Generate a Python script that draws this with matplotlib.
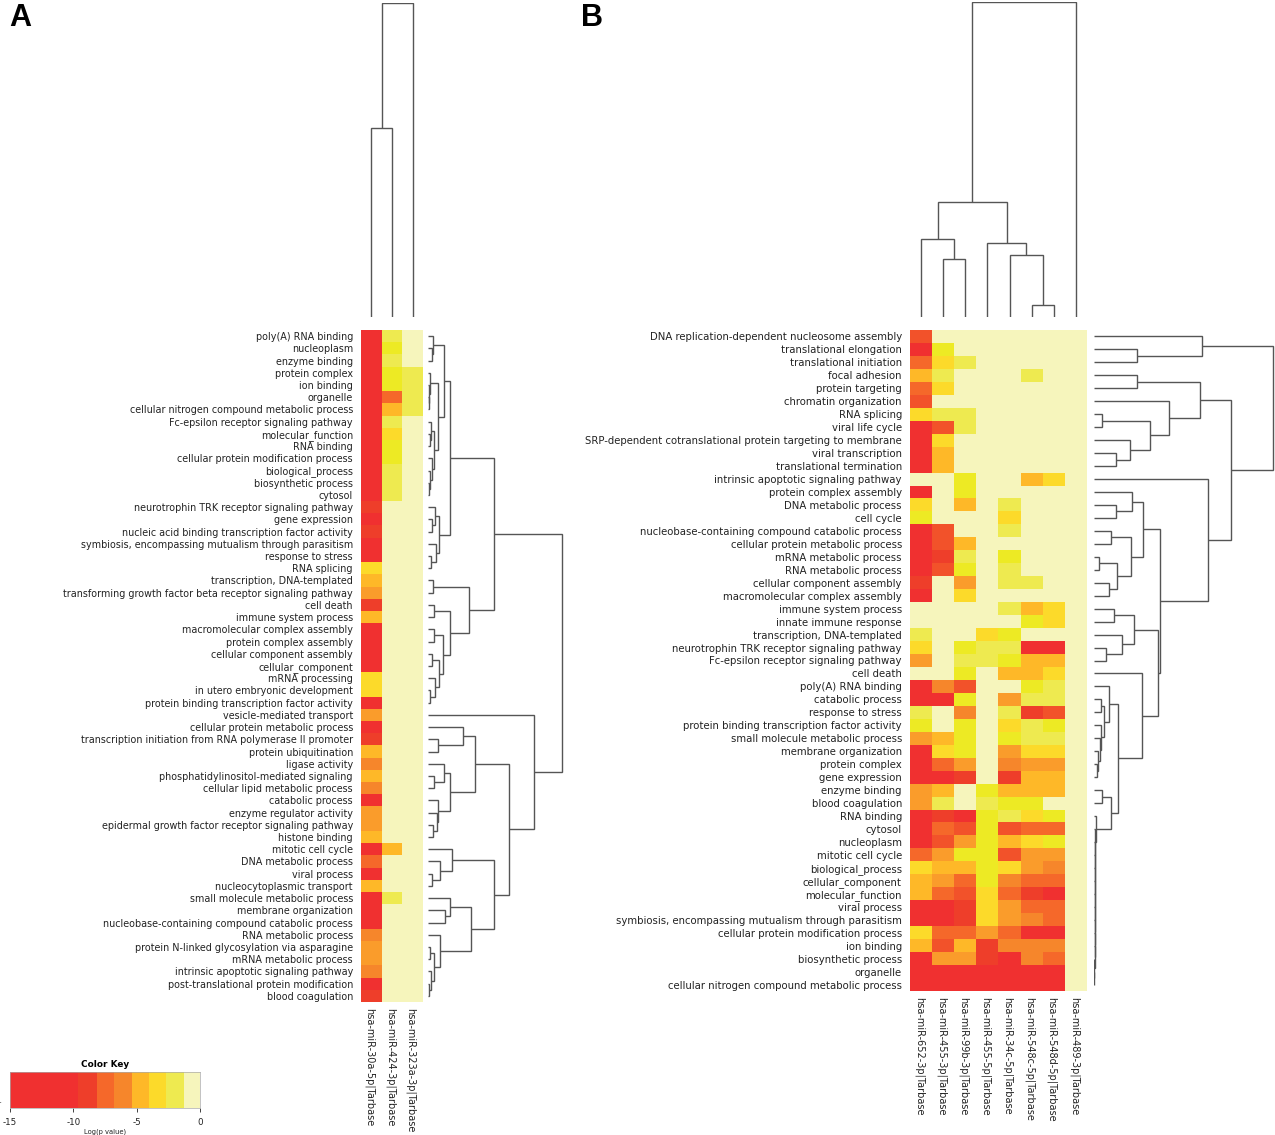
import matplotlib
matplotlib.use("Agg")
import matplotlib.pyplot as plt
import numpy as np
from matplotlib.colors import ListedColormap, BoundaryNorm
from matplotlib.transforms import ScaledTranslation

W, H = 1275, 1135
plt.rcParams['font.family'] = ['DejaVu Sans']

# Log(p) level represented by each colour class
LEVEL_CODES = "RreOoAaYLlP"
LEVEL_VALUES = [-12, -9.1, -8.6, -7.5, -6.2, -5.5, -4.7, -3.4, -2.4, -1.8, -0.5]
LEVEL_COLORS = ['#F03030', '#EE3E2A', '#F2522A', '#F5682A', '#F6862B', '#FA9C2B', '#FEB828',
                '#FCDA2A', '#EDEA24', '#EEEA50', '#F6F5BC']

KEY_EDGES = [-15, -9.6, -8.1, -6.8, -5.4, -4.0, -2.7, -1.3, 0]
KEY_COLORS = ['#F03030', '#EE3E2A', '#F5682A', '#F6862B', '#FEB828', '#FCDA2A', '#EEEA50', '#F6F5BC']

rows_a = ["poly(A) RNA binding", "nucleoplasm", "enzyme binding", "protein complex", "ion binding", "organelle",
          "cellular nitrogen compound metabolic process", "Fc-epsilon receptor signaling pathway", "molecular_function",
          "RNA binding", "cellular protein modification process", "biological_process", "biosynthetic process", "cytosol",
          "neurotrophin TRK receptor signaling pathway", "gene expression",
          "nucleic acid binding transcription factor activity", "symbiosis, encompassing mutualism through parasitism",
          "response to stress", "RNA splicing", "transcription, DNA-templated",
          "transforming growth factor beta receptor signaling pathway", "cell death", "immune system process",
          "macromolecular complex assembly", "protein complex assembly", "cellular component assembly",
          "cellular_component", "mRNA processing", "in utero embryonic development",
          "protein binding transcription factor activity", "vesicle-mediated transport",
          "cellular protein metabolic process", "transcription initiation from RNA polymerase II promoter",
          "protein ubiquitination", "ligase activity", "phosphatidylinositol-mediated signaling",
          "cellular lipid metabolic process", "catabolic process", "enzyme regulator activity",
          "epidermal growth factor receptor signaling pathway", "histone binding", "mitotic cell cycle",
          "DNA metabolic process", "viral process", "nucleocytoplasmic transport", "small molecule metabolic process",
          "membrane organization", "nucleobase-containing compound catabolic process", "RNA metabolic process",
          "protein N-linked glycosylation via asparagine", "mRNA metabolic process",
          "intrinsic apoptotic signaling pathway", "post-translational protein modification", "blood coagulation"]
cols_a = ["hsa-miR-30a-5p|Tarbase", "hsa-miR-424-3p|Tarbase", "hsa-miR-323a-3p|Tarbase"]
vals_a = ["RlP", "RLP", "RlP", "RLl", "RLl", "ROl", "Ral", "RlP", "RYP", "RLP", "RLP", "RlP", "RlP", "RlP",
          "rPP", "RPP", "rPP", "RPP", "RPP", "YPP", "aPP", "APP", "rPP", "aPP",
          "RPP", "RPP", "RPP", "RPP", "YPP", "YPP", "RPP", "APP", "RPP", "rPP", "aPP", "oPP", "aPP", "oPP",
          "RPP", "APP", "APP", "aPP", "RaP", "OPP", "RPP", "aPP", "RlP", "RPP", "RPP", "oPP", "APP", "APP",
          "oPP", "RPP", "rPP"]

rows_b = ["DNA replication-dependent nucleosome assembly", "translational elongation", "translational initiation",
          "focal adhesion", "protein targeting", "chromatin organization", "RNA splicing", "viral life cycle",
          "SRP-dependent cotranslational protein targeting to membrane", "viral transcription",
          "translational termination", "intrinsic apoptotic signaling pathway", "protein complex assembly",
          "DNA metabolic process", "cell cycle", "nucleobase-containing compound catabolic process",
          "cellular protein metabolic process", "mRNA metabolic process", "RNA metabolic process",
          "cellular component assembly", "macromolecular complex assembly", "immune system process",
          "innate immune response", "transcription, DNA-templated", "neurotrophin TRK receptor signaling pathway",
          "Fc-epsilon receptor signaling pathway", "cell death", "poly(A) RNA binding", "catabolic process",
          "response to stress", "protein binding transcription factor activity", "small molecule metabolic process",
          "membrane organization", "protein complex", "gene expression", "enzyme binding", "blood coagulation",
          "RNA binding", "cytosol", "nucleoplasm", "mitotic cell cycle", "biological_process", "cellular_component",
          "molecular_function", "viral process", "symbiosis, encompassing mutualism through parasitism",
          "cellular protein modification process", "ion binding", "biosynthetic process", "organelle",
          "cellular nitrogen compound metabolic process"]
cols_b = ["hsa-miR-652-3p|Tarbase", "hsa-miR-455-3p|Tarbase", "hsa-miR-99b-3p|Tarbase", "hsa-miR-455-5p|Tarbase",
          "hsa-miR-34c-5p|Tarbase", "hsa-miR-548c-5p|Tarbase", "hsa-miR-548d-5p|Tarbase", "hsa-miR-489-3p|Tarbase"]
vals_b = ["ePPPPPPP", "RLPPPPPP", "OYlPPPPP", "alPPPlPP", "OYPPPPPP", "ePPPPPPP", "YllPPPPP", "RelPPPPP",
          "RYPPPPPP", "RaPPPPPP", "RaPPPPPP", "PPLPPaYP", "RPLPPPPP", "YPaPlPPP", "LPPPYPPP", "RePPlPPP",
          "ReaPPPPP", "RrlPLPPP", "ReLPlPPP", "rPAPllPP", "RPYPPPPP", "PPPPlaYP", "PPPPPLYP", "lPPYLPPP",
          "YPLllRRP", "APllLaaP", "PPLPaaYP", "RoePPLlP", "RRLPAllP", "lPoPlreP", "LPLPYlLP", "AaLPLllP",
          "RYLPAYYP", "ROAPoAAP", "RRrPraaP", "AaPLaaaP", "AlPlLLPP", "RrRLlYLP", "ROeLeOOP", "ReALaYLP",
          "OALLeAAP", "YaaLYAoP", "aAOLoOOP", "aOeYOrRP", "RRrYAOOP", "RRrYAoOP", "YOOAORRP", "aearoooP",
          "RAArRoOP", "RRRRRRRP", "RRRRRRRP"]

# Dendrograms as nested (height, first, second); integers are 1-based leaf numbers
col_tree_a = (314, (189, 1, 2), 3)
col_tree_b = (315, (115, (78, 1, (58, 2, 3)), (74, 4, (62, 5, (12, 6, 7)))), 8)

row_tree_a = (134,
  (66,
    (22,
      (16, (5, 1, (4, 2, 3)),
           (10, (2.3, 4, (1, 5, (0.8, 6, 7))),
                (6, (2.7, 8, (1.5, 9, 10)), (4, 11, (2, 12, (1, 13, 14)))))),
      (11, (7, 15, (4, 16, 17)), (8, 18, (3, 19, 20)))),
    (41, (4.5, 21, 22),
         (22, (6, 23, 24),
              (15, (6, 25, 26), (10.7, (4, 27, 28), (6.7, 29, (2.3, 30, 31))))))),
  (106, 32,
    (81,
      (47, (35, 33, (10, 34, 35)),
           (22, (16, 36, (6, 37, 38)), (10, 39, (9, 40, (5, 41, 42))))),
      (66, (24, 43, (12, 44, (4, 45, 46))),
           (43, (22, 47, (17, 48, 49)),
                (12, 50, (6, (1.5, 51, 52), (3, 53, (1, 54, 55)))))))))

tail_b = (0.3, 50, 51)
for leaf, height in zip([49, 48, 47, 46, 45, 44, 43, 42, 41, 40, 39, 38],
                        [0.4, 0.5, 0.55, 0.6, 0.65, 0.7, 0.75, 0.8, 0.85, 1.2, 1.4, 1.7]):
    tail_b = (height, leaf, tail_b)

row_tree_b = (179,
  (108, 1, (43, 2, 3)),
  (137,
    (106, (43, 4, 5),
          (75, 6, (56, (8, 7, 8), (36, 9, (22, 10, 11))))),
    (114, 12,
      (66,
        (49, (38, 13, (22, 14, 15)),
             (37, (17, 16, 17), (23, (5, 18, 19), (15, 20, 21)))),
        (64,
          (40, (20, 22, 23), (28, 24, (12, 25, 26))),
          (48, 27,
            (24,
              (15, 28, (10, (7, 29, 30), (7, 31, (6, 32, (4, 33, (3, 34, 35)))))),
              (17, (8, 36, 37), tail_b))))))))

LINE = '#555555'
TEXT = '#222222'
fig = plt.figure(figsize=(W / 100, H / 100), dpi=100, facecolor='white')


def ax_px(x0, y0, x1, y1):
    return fig.add_axes([x0 / W, 1 - y1 / H, (x1 - x0) / W, (y1 - y0) / H])


def draw_tree(ax, node, vertical):
    if isinstance(node, int):
        return node - 0.5, 0
    h, a, b = node
    pa, ha = draw_tree(ax, a, vertical)
    pb, hb = draw_tree(ax, b, vertical)
    pos = [pa, pa, pb, pb]
    hts = [ha, h, h, hb]
    if vertical:
        ax.plot(pos, hts, color=LINE, lw=1.0, solid_capstyle='butt', solid_joinstyle='miter')
    else:
        ax.plot(hts, pos, color=LINE, lw=1.0, solid_capstyle='butt', solid_joinstyle='miter')
    return (pa + pb) / 2, h


cmap = ListedColormap(LEVEL_COLORS)
mids = [-15] + [(a + b) / 2 for a, b in zip(LEVEL_VALUES[:-1], LEVEL_VALUES[1:])] + [0]
norm = BoundaryNorm(mids, cmap.N)


def panel(vals, rows, cols, box, col_tree, row_tree, col_bottom, col_top, row_left, row_right, row_font):
    x0, y0, x1, y1 = box
    data = np.array([[LEVEL_VALUES[LEVEL_CODES.index(c)] for c in r] for r in vals], float)
    ax = ax_px(x0, y0, x1, y1)
    ax.imshow(data, cmap=cmap, norm=norm, aspect='auto', interpolation='nearest',
              extent=(0, len(cols), len(rows), 0))
    ax.set_yticks(np.arange(len(rows)) + 0.5, rows, fontsize=row_font, color=TEXT)
    ax.set_xticks(np.arange(len(cols)) + 0.5, cols, rotation=-90, fontsize=7.05, color=TEXT, ha='center', va='top')
    ax.tick_params(length=0, axis='y', pad=5.8)
    ax.tick_params(length=0, axis='x', pad=4.3)
    shift = ScaledTranslation(-2 / 100, 0, fig.dpi_scale_trans)
    for lab in ax.get_xticklabels():
        lab.set_transform(lab.get_transform() + shift)
    for s in ax.spines.values():
        s.set_visible(False)

    top = ax_px(x0, col_top, x1, col_bottom)
    draw_tree(top, col_tree, True)
    top.set_xlim(0, len(cols))
    top.set_ylim(0, col_bottom - col_top)
    top.axis('off')

    side = ax_px(row_left, y0, row_right, y1)
    draw_tree(side, row_tree, False)
    side.set_xlim(0, row_right - row_left)
    side.set_ylim(len(rows), 0)
    side.axis('off')


panel(vals_a, rows_a, cols_a, (361, 330, 423, 1002), col_tree_a, row_tree_a, 317, 3, 428, 565, 6.93)
panel(vals_b, rows_b, cols_b, (910, 330, 1087, 991), col_tree_b, row_tree_b, 317, 2, 1094, 1275, 7.28)

# Colour key
key = ax_px(10, 1072, 200, 1108)
for lo, hi, c in zip(KEY_EDGES[:-1], KEY_EDGES[1:], KEY_COLORS):
    key.axvspan(lo, hi, color=c, lw=0)
key.set_xlim(-15, 0)
key.set_ylim(0, 1)
key.set_yticks([])
key.set_xticks([-15, -10, -5, 0], ['-15', '-10', '-5', '0'], fontsize=6.3, color=TEXT)
key.tick_params(length=3, width=0.6, pad=4, color=TEXT)
key.set_xlabel('Log(p value)', fontsize=4.9, color=TEXT, labelpad=1.2)
key.set_title('Color Key', fontsize=6.4, fontweight='bold', color='black', pad=3.5)
for s in key.spines.values():
    s.set_color('#AAAAAA')
    s.set_linewidth(0.5)
fig.text(-1 / W, 1 - 1104 / H, '-', fontsize=5, color=TEXT)

fig.text(9 / W, 1 - 26 / H, 'A', fontsize=22, fontweight='bold', family='Liberation Sans', color='black')
fig.text(581 / W, 1 - 26 / H, 'B', fontsize=22, fontweight='bold', family='Liberation Sans', color='black')

fig.savefig('out.png', dpi=100, facecolor='white')
